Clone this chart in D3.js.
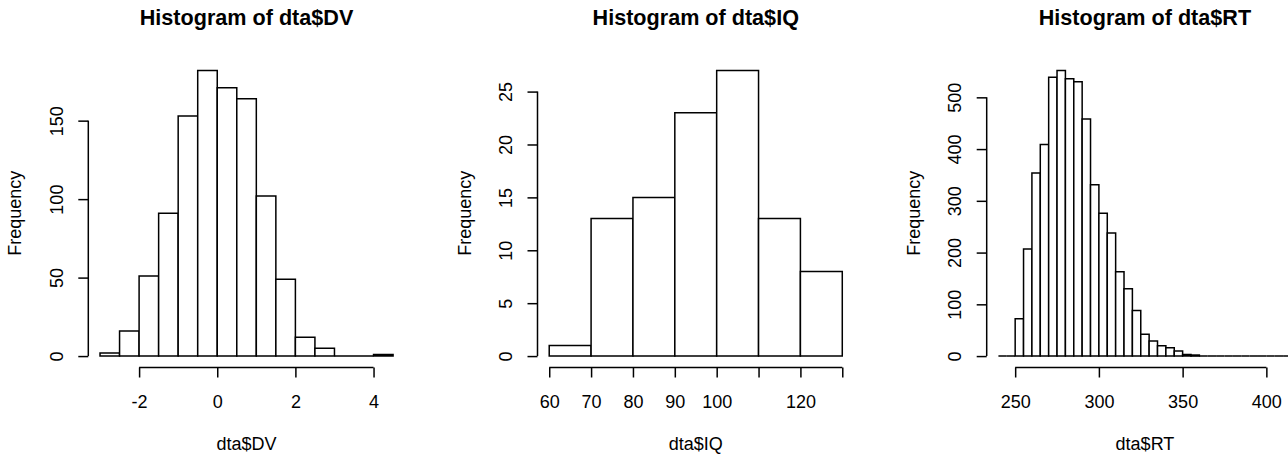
<!DOCTYPE html>
<html>
<head>
<meta charset="utf-8">
<script src="https://cdn.jsdelivr.net/npm/d3@7"></script>
<style>
  html, body { margin: 0; padding: 0; background: #fff; }
  svg { display: block; font-family: "Liberation Sans", Arial, sans-serif; }
</style>
</head>
<body>
<div id="chart"></div>
<script>
// -------- Data --------
const dvBreaks = [-3, -2.5, -2, -1.5, -1, -0.5, 0, 0.5, 1, 1.5, 2, 2.5, 3, 3.5, 4, 4.5];
const dvCounts = [2, 16, 51, 91, 153, 182, 171, 164, 102, 49, 12, 5, 0, 0, 1];
const dvXTicks = [-2, 0, 2, 4];
const dvYTicks = [0, 50, 100, 150];

const iqBreaks = [60, 70, 80, 90, 100, 110, 120, 130];
const iqCounts = [1, 13, 15, 23, 27, 13, 8];
const iqXTicks = [60, 70, 80, 90, 100, 110, 120, 130];
const iqXLabels = ["60", "70", "80", "90", "100", "", "120", ""];
const iqYTicks = [0, 5, 10, 15, 20, 25];

const rtBreaks = [240, 245, 250, 255, 260, 265, 270, 275, 280, 285, 290, 295, 300,
  305, 310, 315, 320, 325, 330, 335, 340, 345, 350, 355, 360, 365, 370, 375, 380,
  385, 390, 395, 400, 405, 410, 415];
const rtCounts = [0, 0, 72, 207, 354, 409, 539, 552, 536, 530, 458, 331, 276, 238,
  163, 130, 88, 42, 29, 20, 16, 10, 3, 2, 0, 0, 0, 0, 0, 0, 0, 0, 0, 0, 0];
const rtXTicks = [250, 300, 350, 400];
const rtYTicks = [0, 100, 200, 300, 400, 500];

const panels = [
  { title: "Histogram of dta$DV", xlab: "dta$DV", breaks: dvBreaks, counts: dvCounts,
    xTicks: dvXTicks, xLabels: null, yTicks: dvYTicks },
  { title: "Histogram of dta$IQ", xlab: "dta$IQ", breaks: iqBreaks, counts: iqCounts,
    xTicks: iqXTicks, xLabels: iqXLabels, yTicks: iqYTicks },
  { title: "Histogram of dta$RT", xlab: "dta$RT", breaks: rtBreaks, counts: rtCounts,
    xTicks: rtXTicks, xLabels: null, yTicks: rtYTicks }
];

// -------- Layout --------
const W = 1288, H = 457;
const panelStep = 449.2;     // distance between panels
const plotOffset = 88.3;     // plot region left inside a panel
const plotW = 316.5;
const plotTop = 59, plotBottom = 367.5;
const lw = 1.5;
const fontSize = 18;
const FONT = "'Liberation Sans', Arial, sans-serif";

const svg = d3.select("#chart").append("svg")
  .attr("width", W)
  .attr("height", H);

panels.forEach((p, i) => drawHist(p, i));

function drawHist(p, i) {
  const left = i * panelStep + plotOffset;
  const right = left + plotW;

  // R style: range extended by 4% on each side
  const x0 = p.breaks[0], x1 = p.breaks[p.breaks.length - 1];
  const dx = (x1 - x0) * 0.04;
  const x = d3.scaleLinear().domain([x0 - dx, x1 + dx]).range([left, right]);

  const yMax = d3.max(p.counts);
  const dy = yMax * 0.04;
  const y = d3.scaleLinear().domain([-dy, yMax + dy]).range([plotBottom, plotTop]);

  const g = svg.append("g");

  // bars as closed paths, so empty bins still show as a line on the baseline
  const bins = p.counts.map((c, k) => ({ x0: p.breaks[k], x1: p.breaks[k + 1], n: c }));
  g.selectAll("path.bar")
    .data(bins)
    .join("path")
    .attr("class", "bar")
    .attr("d", d => {
      const a = x(d.x0), b = x(d.x1), top = y(d.n), base = y(0);
      return `M${a},${base}H${b}V${top}H${a}Z`;
    })
    .attr("fill", "#fff")
    .attr("stroke", "#000")
    .attr("stroke-width", lw);

  // x axis
  const xAxis = d3.axisBottom(x)
    .tickValues(p.xTicks)
    .tickSize(10)
    .tickSizeOuter(0)
    .tickFormat((d, k) => p.xLabels ? p.xLabels[k] : String(d));

  const gx = g.append("g")
    .attr("transform", `translate(0,${plotBottom})`)
    .call(xAxis);
  gx.select(".domain").remove();
  gx.append("line")
    .attr("x1", x(p.xTicks[0]))
    .attr("x2", x(p.xTicks[p.xTicks.length - 1]))
    .attr("stroke", "#000")
    .attr("stroke-width", lw);
  gx.selectAll(".tick line").attr("stroke-width", lw);
  gx.selectAll(".tick text")
    .attr("y", 40.5)
    .attr("dy", null)
    .attr("fill", "#000")
    .style("font-size", fontSize + "px")
    .style("font-family", FONT);

  // y axis
  const yAxis = d3.axisLeft(y)
    .tickValues(p.yTicks)
    .tickSize(10)
    .tickSizeOuter(0)
    .tickFormat(d => String(d));

  const gy = g.append("g")
    .attr("transform", `translate(${left},0)`)
    .call(yAxis);
  gy.select(".domain").remove();
  gy.append("line")
    .attr("y1", y(p.yTicks[0]))
    .attr("y2", y(p.yTicks[p.yTicks.length - 1]))
    .attr("stroke", "#000")
    .attr("stroke-width", lw);
  gy.selectAll(".tick line").attr("stroke-width", lw);
  gy.selectAll(".tick text")
    .attr("x", null)
    .attr("dy", null)
    .attr("transform", "translate(-25.5,0) rotate(-90)")
    .attr("text-anchor", "middle")
    .attr("fill", "#000")
    .style("font-size", fontSize + "px")
    .style("font-family", FONT);

  const cx = (left + right) / 2;

  // title
  g.append("text")
    .attr("x", cx)
    .attr("y", 25)
    .attr("text-anchor", "middle")
    .attr("font-weight", "bold")
    .attr("font-size", 21.6)
    .text(p.title);

  // x label
  g.append("text")
    .attr("x", cx)
    .attr("y", 450)
    .attr("text-anchor", "middle")
    .attr("font-size", fontSize)
    .text(p.xlab);

  // y label
  g.append("text")
    .attr("transform", `translate(${left - 67},${(plotTop + plotBottom) / 2}) rotate(-90)`)
    .attr("text-anchor", "middle")
    .attr("font-size", fontSize)
    .text("Frequency");
}
</script>
</body>
</html>
